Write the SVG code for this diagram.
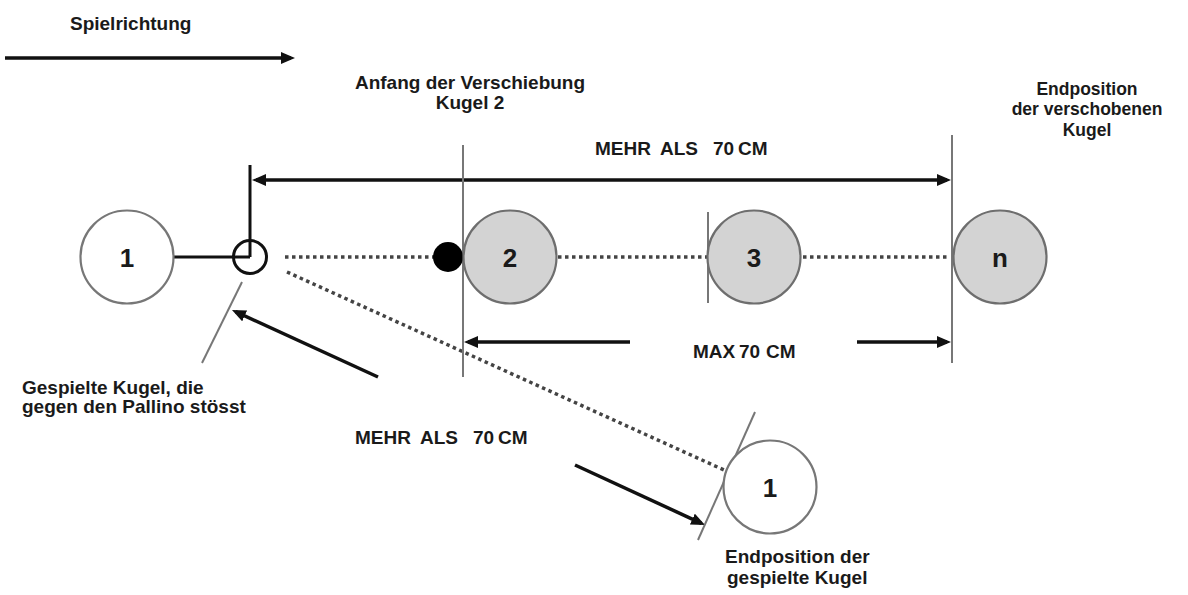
<svg xmlns="http://www.w3.org/2000/svg" width="1188" height="595" viewBox="0 0 1188 595">
<style>
.t{font-family:"Liberation Sans",Arial,sans-serif;font-weight:bold;font-size:19px;fill:#1a1a1a}
.s{font-size:17.5px}
.num{font-family:"Liberation Sans",Arial,sans-serif;font-weight:bold;font-size:26px;fill:#1a1a1a;text-anchor:middle}
.mid{text-anchor:middle}
.arr{stroke:#111;stroke-width:3.5;fill:none}
.blk{stroke:#111;stroke-width:3;fill:none}
.gry{stroke:#777;stroke-width:2;fill:none}
.dot{stroke:#444;stroke-width:3.5;stroke-dasharray:3.5 3.5;fill:none}
.wball{fill:#fff;stroke:#777;stroke-width:2.2}
.gball{fill:#d3d3d3;stroke:#6e6e6e;stroke-width:2.2}
</style>
<defs>
<marker id="ah" viewBox="0 0 14 12" refX="10" refY="6" markerWidth="14" markerHeight="12" markerUnits="userSpaceOnUse" orient="auto-start-reverse">
<path d="M0,0 L14,6 L0,12 z" fill="#111"/>
</marker>
</defs>
<rect width="1188" height="595" fill="#fff"/>

<g id="connectors">
<line class="dot" x1="285" y1="257" x2="950" y2="257"/>
<line class="dot" x1="287" y1="272" x2="724" y2="470"/>
<line class="arr" x1="5" y1="58" x2="291" y2="58" marker-end="url(#ah)"/>
<line class="arr" x1="256" y1="180" x2="947" y2="180" marker-start="url(#ah)" marker-end="url(#ah)"/>
<line class="arr" x1="630" y1="342" x2="468" y2="342" marker-end="url(#ah)"/>
<line class="arr" x1="857" y1="342" x2="947" y2="342" marker-end="url(#ah)"/>
<line class="arr" x1="378" y1="377" x2="235.6" y2="311.7" marker-end="url(#ah)"/>
<line class="arr" x1="575" y1="465" x2="701.4" y2="523.3" marker-end="url(#ah)"/>
<line class="blk" x1="173" y1="257" x2="250" y2="257"/>
<line class="blk" x1="250" y1="165" x2="250" y2="257"/>
<line class="gry" x1="463" y1="145" x2="463" y2="377"/>
<line class="gry" x1="708" y1="212" x2="708" y2="303"/>
<line class="gry" x1="952" y1="135" x2="952" y2="363"/>
<line class="gry" x1="242" y1="282" x2="202" y2="363"/>
<line class="gry" x1="755" y1="412" x2="698" y2="540"/>
</g>

<g id="ball1">
<circle class="wball" cx="127" cy="257" r="46.5"/>
<text class="num" x="127" y="266.5">1</text>
</g>
<g id="pallino">
<circle cx="250" cy="257" r="16.5" fill="none" stroke="#111" stroke-width="3"/>
</g>
<g id="dot">
<circle cx="448" cy="257" r="15" fill="#000"/>
</g>
<g id="ball2">
<circle class="gball" cx="510" cy="257" r="46.5"/>
<text class="num" x="510" y="266.5">2</text>
</g>
<g id="ball3">
<circle class="gball" cx="754" cy="257" r="46.5"/>
<text class="num" x="754" y="266.5">3</text>
</g>
<g id="balln">
<circle class="gball" cx="1000" cy="257" r="46.5"/>
<text class="num" x="1000" y="266.5">n</text>
</g>
<g id="ball1end">
<circle class="wball" cx="770" cy="487" r="46.5"/>
<text class="num" x="770" y="496.5">1</text>
</g>

<g id="labels">
<text class="t" x="70" y="30">Spielrichtung</text>
<text class="t mid" x="470" y="89">Anfang der Verschiebung</text>
<text class="t mid" x="470" y="109">Kugel 2</text>
<text class="t s mid" x="1087" y="95">Endposition</text>
<text class="t s mid" x="1087" y="115">der verschobenen</text>
<text class="t s mid" x="1087" y="136">Kugel</text>
<text class="t" y="155"><tspan x="595">MEHR</tspan> <tspan x="660">ALS</tspan> <tspan x="713">70</tspan> <tspan x="738">CM</tspan></text>
<text class="t" y="358"><tspan x="693">MAX</tspan> <tspan x="739">70</tspan> <tspan x="766">CM</tspan></text>
<text class="t" y="444"><tspan x="355">MEHR</tspan> <tspan x="420">ALS</tspan> <tspan x="473">70</tspan> <tspan x="498">CM</tspan></text>
<text class="t" x="22" y="394">Gespielte Kugel, die</text>
<text class="t" x="22" y="413">gegen den Pallino stösst</text>
<text class="t" x="725" y="563">Endposition der</text>
<text class="t" x="727" y="584">gespielte Kugel</text>
</g>
</svg>
